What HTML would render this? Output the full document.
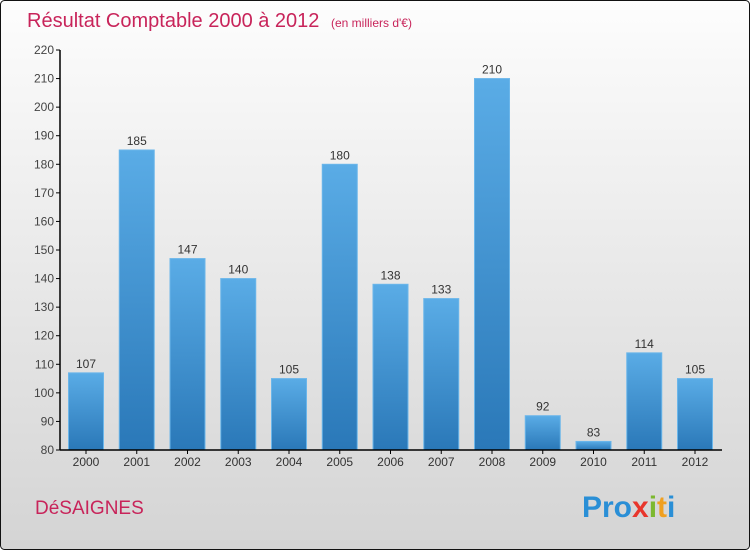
<!DOCTYPE html>
<html><head><meta charset="utf-8"><style>
html,body{margin:0;padding:0}
body{width:750px;height:550px;overflow:hidden;font-family:"Liberation Sans",sans-serif}
</style></head><body>
<svg id="chart" width="750" height="550" xmlns="http://www.w3.org/2000/svg">
<defs>
<linearGradient id="bg" x1="0" y1="0" x2="0" y2="1"><stop offset="0" stop-color="#fdfdfd"/><stop offset="1" stop-color="#d4d4d4"/></linearGradient>
<linearGradient id="bar" x1="0" y1="0" x2="0" y2="1"><stop offset="0" stop-color="#5aace6"/><stop offset="1" stop-color="#2a78b8"/></linearGradient>
</defs>
<rect x="0.5" y="0.5" width="749" height="549" rx="4" fill="url(#bg)" stroke="#111"/>
<text x="27" y="27" font-size="20" fill="#c8245a">Résultat Comptable 2000 à 2012 <tspan font-size="12" dx="6">(en milliers d'€)</tspan></text>
<text x="35" y="514" font-size="19" fill="#c8245a">DéSAIGNES</text>
<text x="582" y="517" font-size="30" font-weight="bold"><tspan fill="#2a8fd6">Pro</tspan><tspan fill="#e8362c">x</tspan><tspan fill="#7cb82f">i</tspan><tspan fill="#f0a020">t</tspan><tspan fill="#2a8fd6">i</tspan></text>
<g id="plot"></g>
</svg>
<script>
const years=["2000","2001","2002","2003","2004","2005","2006","2007","2008","2009","2010","2011","2012"];
const values=[107,185,147,140,105,180,138,133,210,92,83,114,105];
const yTicks=[80,90,100,110,120,130,140,150,160,170,180,190,200,210,220];
const NS="http://www.w3.org/2000/svg";
const g=document.getElementById('plot');
const x0=60,yBase=450,yMin=80,yMax=220,pxTop=50;
function y(v){return yBase-(v-yMin)/(yMax-yMin)*(yBase-pxTop);}
function xc(i){return 86+i*50.75;}
function mk(t,a){const e=document.createElementNS(NS,t);for(const k in a)e.setAttribute(k,a[k]);g.appendChild(e);return e;}
yTicks.forEach(v=>{
  const l=mk('line',{x1:56,x2:60,y1:y(v),y2:y(v),stroke:'#000'});
  
  
  const t=mk('text',{x:54,y:y(v)+4,'text-anchor':'end','font-size':12,fill:'#444'});
  t.textContent=v;
  
  
});
values.forEach((v,i)=>{
  const r=mk('rect',{x:xc(i)-17.5,y:y(v),width:35,height:yBase-y(v),fill:'url(#bar)',stroke:'#6bb6ea','stroke-width':1});
  
  
  const t=mk('text',{x:xc(i),y:y(v)-5,'text-anchor':'middle','font-size':12,fill:'#333'});
  t.textContent=v;
  
  
  const tk=mk('line',{x1:xc(i),x2:xc(i),y1:450,y2:454,stroke:'#000'});
  
  
  const xl=mk('text',{x:xc(i),y:466,'text-anchor':'middle','font-size':12,fill:'#333'});
  xl.textContent=years[i];
  
  
});
const ya=mk('line',{x1:60,x2:60,y1:50,y2:450,stroke:'#000','stroke-width':1.5});


const xa=mk('line',{x1:60,x2:722,y1:450,y2:450,stroke:'#000','stroke-width':1.5});


</script>
</body></html>
